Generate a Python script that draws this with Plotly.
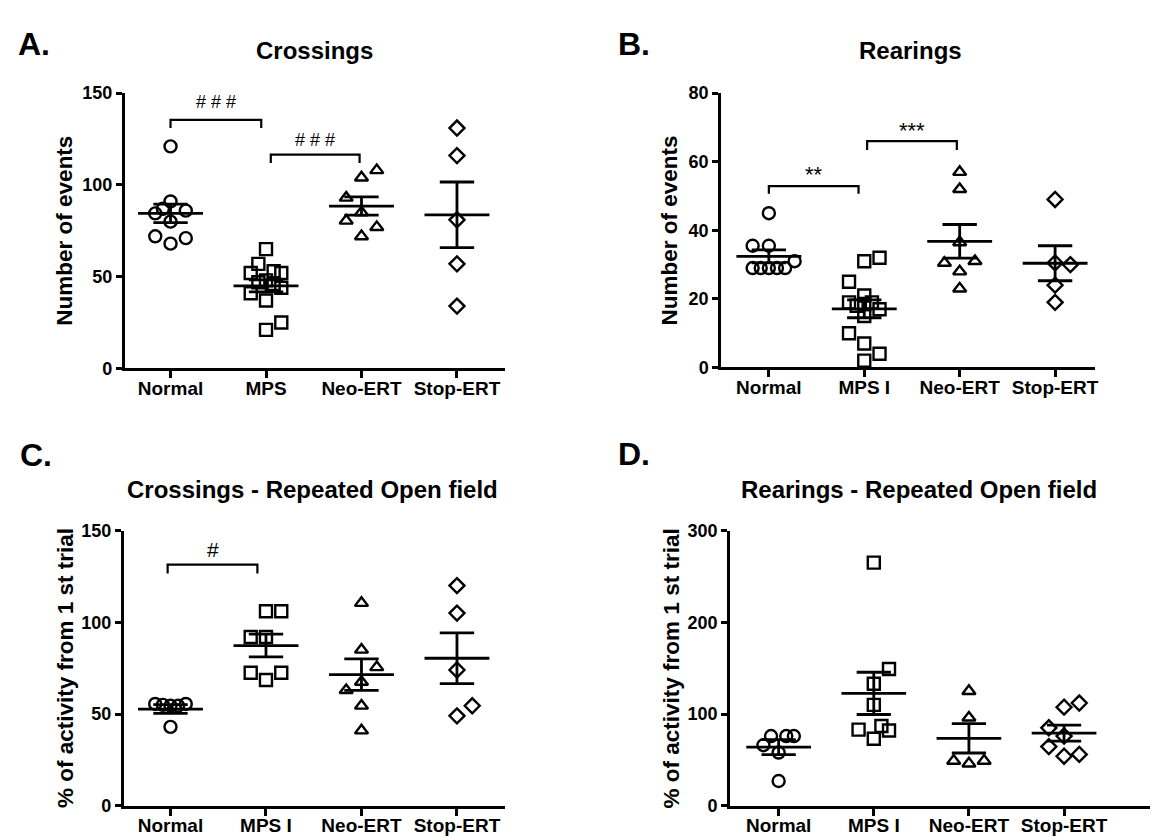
import plotly.graph_objects as go

W, H = 1158, 840
FONT = "Liberation Sans, Arial, sans-serif"

# ---------------- data ----------------
groups_ab = ["Normal", "MPS", "Neo-ERT", "Stop-ERT"]
groups_b = ["Normal", "MPS I", "Neo-ERT", "Stop-ERT"]

# Panel A - Crossings
a_normal = [121, 91, 87, 86, 84.5, 80, 72, 71, 68]
a_mps = [65, 57, 53, 52, 52, 48, 47, 46, 44, 41, 37, 25, 21]
a_neo = [104, 108, 93, 85, 80.5, 77, 72]
a_stop = [131, 116, 81, 57, 34]
a_mean = [84.5, 45, 88.5, 83.7]
a_sem = [5.0, 3.3, 5.0, 17.9]

# Panel B - Rearings
b_normal = [45, 35.5, 35.5, 31, 29, 29, 29, 29, 29]
b_mps = [32, 31, 25, 21, 19, 19, 18.5, 18, 17, 15, 10, 7, 4, 2]
b_neo = [57, 52, 36.5, 30.5, 31, 28, 23]
b_stop = [49, 30.5, 30, 24, 19]
b_mean = [32.4, 17.1, 36.8, 30.4]
b_sem = [1.9, 2.6, 4.9, 5.1]

# Panel C - Crossings repeated
c_normal = [55.5, 55, 54.5, 54.5, 55.5, 43]
c_mps = [106, 106, 92, 92, 72.5, 68.5, 72.5]
c_neo = [110.5, 85, 75.5, 67.5, 63, 54.5, 41]
c_stop = [120, 105, 74, 49, 54.5]
c_mean = [52.7, 87.3, 71.5, 80.4]
c_sem = [2.4, 6.2, 8.6, 13.8]

# Panel D - Rearings repeated
d_normal = [76, 76, 76, 66, 58, 27]
d_mps = [265, 149, 133, 110, 87, 83, 82, 73]
d_neo = [125, 96, 49, 46, 49]
d_stop = [112, 107.5, 85, 76, 64.5, 56, 54]
d_mean = [63.9, 122.5, 73.5, 79.2]
d_sem = [8.2, 23.0, 16.0, 8.8]

# horizontal jitter of the scatter columns (category units)
a_dx = [[0, 0, -0.08, 0.16, -0.16, 0, -0.16, 0.16, 0],
        [0, -0.08, 0.08, -0.16, 0.16, 0, -0.08, 0.08, 0.16, -0.16, 0, 0.16, 0],
        [0, 0.16, -0.16, 0, -0.16, 0.16, 0],
        [0, 0, 0, 0, 0]]
b_dx = [[0, -0.17, 0, 0.27, -0.17, -0.085, 0, 0.085, 0.17],
        [0.16, 0, -0.16, 0, -0.16, 0.08, 0, -0.08, 0.16, 0, -0.16, 0, 0.16, 0],
        [0, 0, 0, -0.16, 0.16, 0, 0],
        [0, 0, 0.16, 0, 0]]
c_dx = [[-0.16, -0.08, 0, 0.08, 0.16, 0],
        [0, 0.16, -0.16, 0, -0.16, 0, 0.16],
        [0, 0, 0.16, 0, -0.16, 0, 0],
        [0, 0, 0, 0, 0.16]]
d_dx = [[-0.08, 0.08, 0.16, -0.16, 0, 0],
        [0, 0.16, 0, 0, 0.08, -0.16, 0.16, 0],
        [0, 0, -0.16, 0, 0.16],
        [0.16, 0, -0.16, 0, -0.16, 0.16, 0]]

symbols = ["circle-open", "square-open", "triangle-up-open", "diamond-open"]
sizes = [12, 12, 11.5, 11.5]


def px(x):
    return x / W


def py(y):
    return 1 - y / H


fig = go.Figure()
annotations = []

panels = [
    dict(ax="", letter="A.", title="Crossings", ytitle="Number of events",
         cats=groups_ab, vals=[a_normal, a_mps, a_neo, a_stop], dx=a_dx,
         mean=a_mean, sem=a_sem, xdom=[117, 498], ydom=[77, 359],
         xr=[-0.48, 3.5], yr=[0, 150], dt=50, letter_xy=(8, 27),
         title_xy=(307, 33), ytitle_x=57,
         brackets=[(0.0, 0.95, 131, 135.5, "# # #", 145, 18),
                   (1.05, 1.98, 112, 116.5, "# # #", 124.5, 18)]),
    dict(ax="2", letter="B.", title="Rearings", ytitle="Number of events",
         cats=groups_b, vals=[b_normal, b_mps, b_neo, b_stop], dx=b_dx,
         mean=b_mean, sem=b_sem, xdom=[715, 1090], ydom=[77, 358],
         xr=[-0.5, 3.42], yr=[0, 80], dt=20, letter_xy=(610, 27),
         title_xy=(905, 33), ytitle_x=663,
         brackets=[(0.0, 0.94, 50.7, 52.9, "**", 56.2, 22),
                   (1.03, 1.97, 63.4, 66, "***", 69.2, 22)]),
    dict(ax="3", letter="C.", title="Crossings - Repeated Open field",
         ytitle="% of activity from 1 st trial",
         cats=groups_b, vals=[c_normal, c_mps, c_neo, c_stop], dx=c_dx,
         mean=c_mean, sem=c_sem, xdom=[116, 498], ydom=[525, 807],
         xr=[-0.49, 3.5], yr=[0, 150], dt=50, letter_xy=(10, 448),
         title_xy=(305, 483), ytitle_x=57,
         brackets=[(-0.03, 0.91, 126.6, 131.4, "#", 139.5, 21)]),
    dict(ax="4", letter="D.", title="Rearings - Repeated Open field",
         ytitle="% of activity from 1 st trial",
         cats=groups_b, vals=[d_normal, d_mps, d_neo, d_stop], dx=d_dx,
         mean=d_mean, sem=d_sem, xdom=[724, 1158], ydom=[525, 807],
         xr=[-0.51, 4.04], yr=[0, 300], dt=100, letter_xy=(610, 447),
         title_xy=(913, 483), ytitle_x=665,
         brackets=[]),
]

for p in panels:
    xa = "x" + p["ax"]
    ya = "y" + p["ax"]
    # scatter points
    for gi, vals in enumerate(p["vals"]):
        xs = [gi + d for d in p["dx"][gi]]
        fig.add_trace(go.Scatter(
            x=xs, y=vals, mode="markers", xaxis=xa, yaxis=ya,
            marker=dict(symbol=symbols[gi], size=sizes[gi], color="black",
                        line=dict(color="black", width=2.4)),
            showlegend=False, hoverinfo="y"))
    # mean and SEM
    lx, ly = [], []
    for gi, (m, s) in enumerate(zip(p["mean"], p["sem"])):
        lx += [gi - 0.34, gi + 0.34, None, gi - 0.18, gi + 0.18, None,
               gi - 0.18, gi + 0.18, None, gi, gi, None]
        ly += [m, m, None, m + s, m + s, None, m - s, m - s, None,
               m - s, m + s, None]
    fig.add_trace(go.Scatter(x=lx, y=ly, mode="lines", xaxis=xa, yaxis=ya,
                             line=dict(color="black", width=2.8),
                             showlegend=False, hoverinfo="skip"))
    # significance brackets
    for (x1, x2, ytip, ytop, txt, ytxt, fs) in p["brackets"]:
        fig.add_trace(go.Scatter(x=[x1, x1, x2, x2], y=[ytip, ytop, ytop, ytip],
                                 mode="lines", xaxis=xa, yaxis=ya,
                                 line=dict(color="black", width=2.2),
                                 showlegend=False, hoverinfo="skip"))
        annotations.append(dict(x=(x1 + x2) / 2, y=ytxt, xref=xa, yref=ya,
                                text=txt, showarrow=False,
                                font=dict(family=FONT, size=fs, color="black")))
    # axes
    key = p["ax"]
    fig.layout["xaxis" + key] = dict(
        domain=[px(p["xdom"][0]), px(p["xdom"][1])], range=p["xr"],
        anchor=ya, tickmode="array", tickvals=[0, 1, 2, 3], ticktext=p["cats"],
        showline=True, linecolor="black", linewidth=2.8, ticks="outside",
        ticklen=7, tickwidth=2.8, tickcolor="black", showgrid=False,
        zeroline=False, ticklabelstandoff=-6,
        tickfont=dict(family=FONT, size=19, color="black", weight="bold"))
    fig.layout["yaxis" + key] = dict(
        domain=[py(p["ydom"][1]), py(p["ydom"][0])], range=p["yr"],
        anchor=xa, tickmode="linear", tick0=0, dtick=p["dt"],
        showline=True, linecolor="black", linewidth=2.8, ticks="outside",
        ticklen=6, tickwidth=2.8, tickcolor="black", showgrid=False,
        zeroline=False,
        tickfont=dict(family=FONT, size=18, color="black", weight="bold"))
    # titles and labels
    annotations.append(dict(x=px(p["title_xy"][0]), y=py(p["title_xy"][1]),
                            xref="paper", yref="paper",
                            text=p["title"], showarrow=False, xanchor="center",
                            yanchor="middle",
                            font=dict(family=FONT, size=24, color="black", weight="bold")))
    annotations.append(dict(x=px(p["letter_xy"][0]), y=py(p["letter_xy"][1]),
                            xref="paper", yref="paper", text=p["letter"],
                            showarrow=False, xanchor="left", yanchor="middle",
                            font=dict(family=FONT, size=32, color="black", weight="bold")))
    annotations.append(dict(x=px(p["ytitle_x"]),
                            y=py((p["ydom"][0] + p["ydom"][1]) / 2),
                            xref="paper", yref="paper", text=p["ytitle"],
                            textangle=-90, showarrow=False, xanchor="center",
                            yanchor="middle",
                            font=dict(family=FONT, size=22.5, color="black", weight="bold")))

fig.update_layout(width=W, height=H, margin=dict(l=0, r=0, t=0, b=0),
                  paper_bgcolor="white", plot_bgcolor="white",
                  annotations=annotations, showlegend=False)

fig.write_html("out.html")
